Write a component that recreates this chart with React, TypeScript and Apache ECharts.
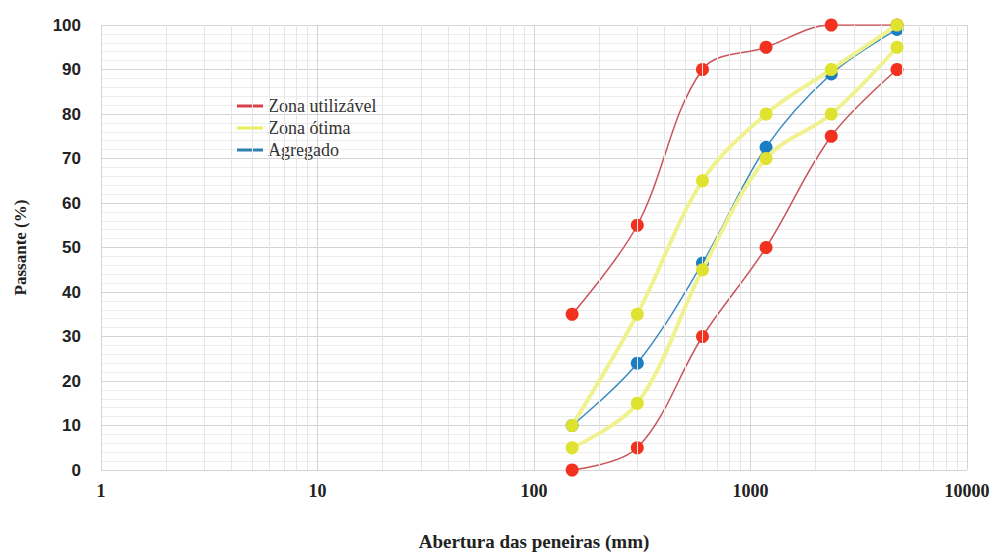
import React, { useEffect, useRef } from "react";
import * as echarts from "echarts";

const sieves = [150, 300, 600, 1180, 2360, 4750];
const usableUpper = [35, 55, 90, 95, 100, 100];
const usableLower = [0, 5, 30, 50, 75, 90];
const optimalUpper = [10, 35, 65, 80, 90, 100];
const optimalLower = [5, 15, 45, 70, 80, 95];
const aggregate = [10, 24, 46.5, 72.5, 89, 99];
const minorX = [2, 3, 4, 5, 6, 7, 8, 9, 20, 30, 40, 50, 60, 70, 80, 90, 200, 300, 400, 500, 600, 700, 800, 900, 2000, 3000, 4000, 5000, 6000, 7000, 8000, 9000];

const pair = (ys: number[]) => sieves.map((x, i) => [x, ys[i]]);

const RED_LINE = "#c9545a";
const RED_DOT = "#f2321f";
const YEL_LINE = "#f0f290";
const YEL_DOT = "#dfe22e";
const BLUE_LINE = "#3a8cc0";
const BLUE_DOT = "#1b7dc2";

export default function App() {
  const ref = useRef<HTMLDivElement>(null);
  useEffect(() => {
    if (!ref.current) return;
    const chart = echarts.init(ref.current, undefined, { renderer: "svg" });
    const redSeries = (data: number[]) => ({
      name: "Zona utilizável",
      type: "line",
      smooth: 0.35,
      data: pair(data),
      symbol: "circle",
      symbolSize: 13,
      lineStyle: { color: RED_LINE, width: 1.5 },
      itemStyle: { color: RED_DOT },
      z: 3,
    });
    const yelSeries = (data: number[]) => ({
      name: "Zona ótima",
      type: "line",
      smooth: 0.35,
      data: pair(data),
      symbol: "circle",
      symbolSize: 13,
      lineStyle: { color: YEL_LINE, width: 4 },
      itemStyle: { color: YEL_DOT },
      z: 5,
    });
    chart.setOption({
      animation: false,
      backgroundColor: "#ffffff",
      grid: { left: 101, right: 34, top: 25, bottom: 74 },
      legend: {
        left: 232,
        top: 92,
        orient: "vertical",
        itemGap: 4,
        itemWidth: 26,
        itemHeight: 3,
        icon: "rect",
        data: [
          { name: "Zona utilizável", itemStyle: { color: "#d8404a" }, lineStyle: { color: "#d8404a", width: 2 } },
          { name: "Zona ótima", itemStyle: { color: "#e8ee55" }, lineStyle: { color: "#e8ee55", width: 4 } },
          { name: "Agregado", itemStyle: { color: "#2f7fb0" }, lineStyle: { color: "#2f7fb0", width: 2 } },
        ],
        textStyle: { fontFamily: "Liberation Serif", fontSize: 18, color: "#333" },
      },
      xAxis: {
        type: "log",
        logBase: 10,
        min: 1,
        max: 10000,
        name: "Abertura das peneiras (mm)",
        nameLocation: "middle",
        nameGap: 62,
        nameTextStyle: { fontFamily: "Liberation Serif", fontWeight: "bold", fontSize: 19, color: "#222" },
        axisLine: { show: false },
        axisTick: { show: false },
        axisLabel: {
          fontFamily: "Liberation Serif",
          fontWeight: "bold",
          fontSize: 18,
          color: "#222",
          margin: 12,
          formatter: (v: number) => String(Math.round(v)),
        },
        splitLine: { show: true, lineStyle: { color: "#d4d4d4", width: 1 } },
      },
      yAxis: {
        type: "value",
        min: 0,
        max: 100,
        interval: 10,
        name: "Passante (%)",
        nameLocation: "middle",
        nameGap: 72,
        nameTextStyle: { fontFamily: "Liberation Serif", fontWeight: "bold", fontSize: 17, color: "#222" },
        axisLine: { show: false },
        axisTick: { show: false },
        axisLabel: { fontFamily: "Liberation Sans", fontWeight: "bold", fontSize: 17, color: "#222", margin: 20 },
        splitLine: { show: true, lineStyle: { color: "#d4d4d4", width: 1 } },
        minorTick: { show: false, splitNumber: 5 },
        minorSplitLine: { show: true, lineStyle: { color: "#ececec", width: 1 } },
      },
      series: [
        {
          name: "grid-minor",
          type: "line",
          data: [],
          silent: true,
          z: 1,
          markLine: {
            silent: true,
            symbol: ["none", "none"],
            label: { show: false },
            lineStyle: { color: "#e6e6e6", width: 1, type: "solid" },
            data: minorX.map((v) => ({ xAxis: v })),
          },
        },
        redSeries(usableUpper),
        redSeries(usableLower),
        {
          name: "Agregado",
          type: "line",
          smooth: 0.35,
          data: pair(aggregate),
          symbol: "circle",
          symbolSize: 13,
          lineStyle: { color: BLUE_LINE, width: 1.5 },
          itemStyle: { color: BLUE_DOT },
          z: 4,
        },
        yelSeries(optimalUpper),
        yelSeries(optimalLower),
      ],
    });
    return () => chart.dispose();
  }, []);
  return <div ref={ref} style={{ width: 1001, height: 556, position: "absolute", left: 0, top: 0 }} />;
}
